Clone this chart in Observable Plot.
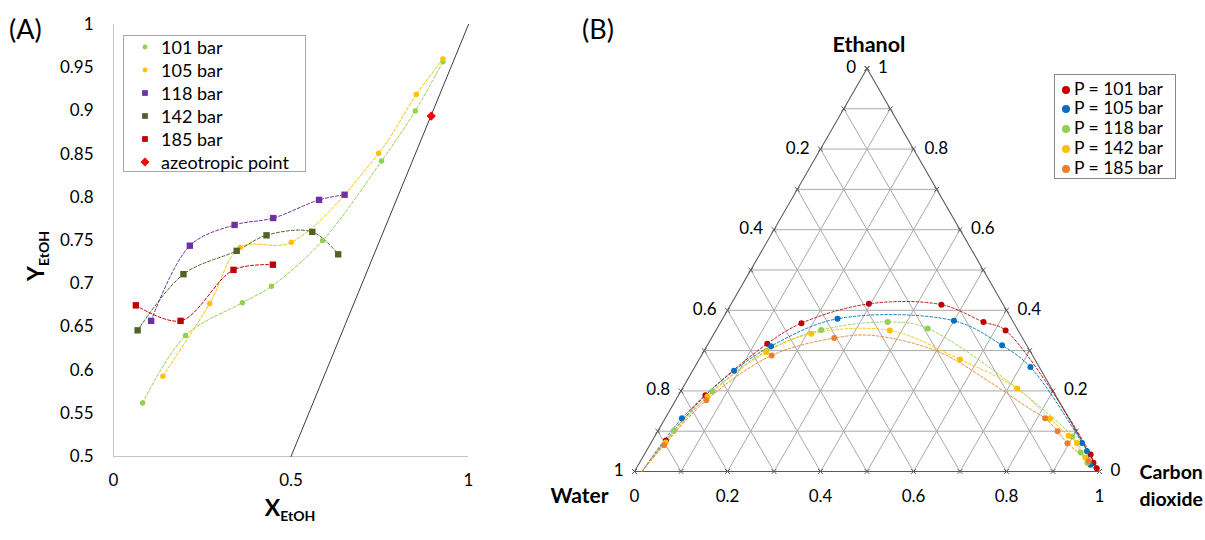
<!DOCTYPE html>
<html>
<head>
<meta charset="utf-8">
<script src="https://cdn.jsdelivr.net/npm/d3@7"></script>
<script src="https://cdn.jsdelivr.net/npm/@observablehq/plot@0.6"></script>
<style>
  body { margin: 0; background: #fff; }
  #root { position: relative; width: 1205px; height: 540px; overflow: hidden; background: #fff;
          font-family: Lato, "Open Sans", sans-serif; color: #000; }
  #panelA { position: absolute; left: 0; top: 0; }
  #panelB { position: absolute; left: 530px; top: 0; }
  .tag { position: absolute; font-size: 27px; line-height: 1; }
  .legend { position: absolute; background: #fff; box-sizing: border-box; }
  .legend .row { position: absolute; left: 0; display: flex; align-items: center; white-space: nowrap; }
</style>
</head>
<body>
<div id="root">
  <div id="panelA"></div>
  <div id="panelB"></div>
</div>
<script>
// ---------------- Panel A data: vapour (Y) vs liquid (X) ethanol fraction ----------------
const seriesNamesA = ["101 bar", "105 bar", "118 bar", "142 bar", "185 bar"];
const x101 = [0.082, 0.203, 0.363, 0.445, 0.589, 0.755, 0.850, 0.928];
const y101 = [0.562, 0.640, 0.678, 0.697, 0.750, 0.842, 0.900, 0.957];
const x105 = [0.139, 0.271, 0.357, 0.501, 0.747, 0.853, 0.928];
const y105 = [0.593, 0.677, 0.742, 0.748, 0.851, 0.919, 0.960];
const x118 = [0.106, 0.215, 0.341, 0.450, 0.579, 0.651];
const y118 = [0.657, 0.744, 0.768, 0.776, 0.797, 0.803];
const x142 = [0.068, 0.197, 0.347, 0.431, 0.560, 0.633];
const y142 = [0.646, 0.711, 0.738, 0.756, 0.760, 0.734];
const x185 = [0.063, 0.189, 0.338, 0.449];
const y185 = [0.675, 0.657, 0.716, 0.722];
const azeoLabel = "azeotropic point";
const azeoX = [0.895];
const azeoY = [0.894];
const diagX = [0.5, 1];
const diagY = [0.5, 1];
const xTicksA = [0, 0.5, 1];
const yTicksA = [0.5, 0.55, 0.6, 0.65, 0.7, 0.75, 0.8, 0.85, 0.9, 0.95, 1];

// ---------------- Panel B data: ternary (CO2 fraction c, ethanol fraction e) ----------------
const seriesNamesB = ["P = 101 bar", "P = 105 bar", "P = 118 bar", "P = 142 bar", "P = 185 bar"];
const c101 = [0.029, 0.058, 0.127, 0.175, 0.296, 0.453, 0.565, 0.623, 0.960, 0.976, 0.990];
const e101 = [0.077, 0.189, 0.317, 0.368, 0.416, 0.414, 0.371, 0.350, 0.042, 0.022, 0.008];
const c105 = [0.036, 0.089, 0.138, 0.247, 0.500, 0.634, 0.722, 0.927, 0.948, 0.972];
const e105 = [0.132, 0.250, 0.311, 0.379, 0.374, 0.313, 0.259, 0.071, 0.050, 0.017];
const c118 = [0.034, 0.068, 0.134, 0.226, 0.359, 0.453, 0.898, 0.936, 0.963];
const e118 = [0.101, 0.199, 0.299, 0.351, 0.371, 0.355, 0.087, 0.047, 0.022];
const c142 = [0.031, 0.064, 0.135, 0.209, 0.374, 0.561, 0.720, 0.828, 0.889, 0.916, 0.952];
const e142 = [0.072, 0.186, 0.296, 0.342, 0.350, 0.278, 0.206, 0.131, 0.089, 0.071, 0.035];
const c185 = [0.031, 0.066, 0.151, 0.264, 0.817, 0.860, 0.896, 0.964];
const e185 = [0.065, 0.177, 0.288, 0.331, 0.132, 0.100, 0.070, 0.026];
// extra points read off the dashed fitted 185 bar curve where it has no markers
const fit185C = [0.339, 0.503, 0.655, 0.775];
const fit185E = [0.338, 0.298, 0.221, 0.154];
// where the dashed fitted curves meet the triangle edges
const curveStartC = 0.016;
const curveEndC = 1;
const gridTicks = [0.1, 0.2, 0.3, 0.4, 0.5, 0.6, 0.7, 0.8, 0.9];
const edgeTicks = [0, 0.1, 0.2, 0.3, 0.4, 0.5, 0.6, 0.7, 0.8, 0.9, 1];
const labelTicks = [0, 0.2, 0.4, 0.6, 0.8, 1];
const vertexNames = ["Water", "Carbon\ndioxide", "Ethanol"];

// ---------------- helpers ----------------
const fmt = d => String(+(+d).toFixed(2));
const pts = (xs, ys) => xs.map((x, i) => ({x, y: ys[i]}));
const comp = (cs, es) => cs.map((c, i) => ({c, e: es[i]}));
const S3 = Math.sqrt(3) / 2;
const TX = d => d.c + d.e / 2;
const TY = d => d.e * S3;

// ---------------- Panel A ----------------
const A = [
  {name: seriesNamesA[0], data: pts(x101, y101), color: "#92D050", symbol: "circle", r: 2.7},
  {name: seriesNamesA[1], data: pts(x105, y105), color: "#FFC000", symbol: "circle", r: 2.7},
  {name: seriesNamesA[2], data: pts(x118, y118), color: "#7030A0", symbol: "square", r: 3.6},
  {name: seriesNamesA[3], data: pts(x142, y142), color: "#4F6228", symbol: "square", r: 3.6},
  {name: seriesNamesA[4], data: pts(x185, y185), color: "#C00000", symbol: "square", r: 3.6}
];

const marksA = [
  Plot.ruleX([0], {stroke: "#c4c4c4", strokeWidth: 1}),
  Plot.ruleY([0.5], {stroke: "#c4c4c4", strokeWidth: 1}),
  Plot.line(pts(diagX, diagY), {x: "x", y: "y", stroke: "#3c3c3c", strokeWidth: 1})
];
for (const s of A) {
  marksA.push(Plot.line(s.data, {x: "x", y: "y", stroke: s.color, strokeWidth: 1,
    strokeDasharray: "3,2", curve: "catmull-rom"}));
}
for (const s of A) {
  marksA.push(Plot.dot(s.data, {x: "x", y: "y", fill: s.color, symbol: s.symbol, r: s.r}));
}
marksA.push(Plot.dot(pts(azeoX, azeoY), {x: "x", y: "y", fill: "#FF0000", symbol: "diamond2", r: 4.2}));

const plotA = Plot.plot({
  width: 490, height: 540,
  marginLeft: 113, marginRight: 22, marginTop: 24, marginBottom: 84,
  style: {fontFamily: "Lato, 'Open Sans', sans-serif", fontSize: "17px", color: "#000", background: "transparent"},
  x: {domain: [0, 1], ticks: xTicksA, tickFormat: fmt, tickSize: 0, tickPadding: 17, label: null},
  y: {domain: [0.5, 1], ticks: yTicksA, tickFormat: fmt, tickSize: 0, tickPadding: 20, label: null},
  marks: marksA
});
document.getElementById("panelA").appendChild(plotA);

// axis titles with subscripts
const svgA = d3.select(plotA);
const yt = svgA.append("text").attr("transform", "translate(44,256) rotate(-90)")
  .attr("text-anchor", "middle").attr("font-weight", "bold").attr("fill", "#000")
  .attr("font-family", "Lato, 'Open Sans', sans-serif");
yt.append("tspan").attr("font-size", 23).text("Y");
yt.append("tspan").attr("font-size", 14).attr("dy", 5).text("EtOH");
const xt = svgA.append("text").attr("transform", "translate(290,516)")
  .attr("text-anchor", "middle").attr("font-weight", "bold").attr("fill", "#000")
  .attr("font-family", "Lato, 'Open Sans', sans-serif");
xt.append("tspan").attr("font-size", 23).text("X");
xt.append("tspan").attr("font-size", 14).attr("dy", 5).text("EtOH");

// ---------------- Panel B ----------------
const B = [
  {name: seriesNamesB[0], data: comp(c101, e101), fit: [], color: "#C00000"},
  {name: seriesNamesB[1], data: comp(c105, e105), fit: [], color: "#0070C0"},
  {name: seriesNamesB[2], data: comp(c118, e118), fit: [], color: "#92D050"},
  {name: seriesNamesB[3], data: comp(c142, e142), fit: [], color: "#FFC000"},
  {name: seriesNamesB[4], data: comp(c185, e185), fit: comp(fit185C, fit185E), color: "#ED7D31"}
];

const gridLinks = [];
for (const k of gridTicks) {
  gridLinks.push({a: {c: 0, e: k}, b: {c: 1 - k, e: k}});        // constant ethanol
  gridLinks.push({a: {c: k, e: 0}, b: {c: k, e: 1 - k}});        // constant CO2
  gridLinks.push({a: {c: 1 - k, e: 0}, b: {c: 0, e: 1 - k}});    // constant water
}
const vertices = [{c: 0, e: 0, name: vertexNames[0]}, {c: 1, e: 0, name: vertexNames[1]}, {c: 0, e: 1, name: vertexNames[2]}];
const edgePts = [];
for (const k of edgeTicks) {
  edgePts.push({c: k, e: 0}, {c: 0, e: k}, {c: 1 - k, e: k});
}

const marksB = [
  Plot.link(gridLinks, {x1: d => TX(d.a), y1: d => TY(d.a), x2: d => TX(d.b), y2: d => TY(d.b),
    stroke: "#a9a9a9", strokeWidth: 1}),
  Plot.line([...vertices, vertices[0]], {x: TX, y: TY, stroke: "#5a5a5a", strokeWidth: 1.1}),
  Plot.dot(edgePts, {x: TX, y: TY, symbol: "times", r: 2.3, stroke: "#5a5a5a", strokeWidth: 1})
];
for (const s of B) {
  const curve = [{c: curveStartC, e: 0}, ...s.data, ...s.fit, {c: curveEndC, e: 0}]
    .sort((p, q) => p.c - q.c);
  marksB.push(Plot.line(curve, {x: TX, y: TY, stroke: s.color, strokeWidth: 1,
    strokeDasharray: "2.5,2", curve: "catmull-rom", strokeOpacity: 0.9}));
}
for (const s of B) {
  marksB.push(Plot.dot(s.data, {x: TX, y: TY, fill: s.color, r: 3}));
}
// tick labels
marksB.push(
  Plot.text(labelTicks, {x: v => v, y: () => 0, text: fmt, dy: 25, fontSize: 17}),
  Plot.text(labelTicks, {x: w => (1 - w) / 2, y: w => (1 - w) * S3, text: fmt, textAnchor: "end", dx: -11, dy: -1, fontSize: 17}),
  Plot.text(labelTicks, {x: e => 1 - e / 2, y: e => e * S3, text: fmt, textAnchor: "start", dx: 11, dy: -1, fontSize: 17}),
  Plot.text([vertices[0]], {x: TX, y: TY, text: "name", textAnchor: "end", dx: -26, dy: 25, fontSize: 21, fontWeight: "bold"}),
  Plot.text([vertices[1]], {x: TX, y: TY, text: "name", textAnchor: "start", dx: 40, dy: 12, fontSize: 19.5, fontWeight: "bold", lineHeight: 1.42}),
  Plot.text([vertices[2]], {x: TX, y: TY, text: "name", dx: 2, dy: -23, fontSize: 21.5, fontWeight: "bold"})
);

const plotB = Plot.plot({
  width: 675, height: 540,
  marginLeft: 104, marginRight: 106, marginTop: 68, marginBottom: 69,
  style: {fontFamily: "Lato, 'Open Sans', sans-serif", fontSize: "17px", color: "#000", background: "transparent"},
  x: {domain: [0, 1], axis: null},
  y: {domain: [0, S3], axis: null},
  marks: marksB
});
document.getElementById("panelB").appendChild(plotB);

// ---------------- overlays: panel tags and legends ----------------
const root = d3.select("#root");
root.append("div").attr("class", "tag").style("left", "9px").style("top", "15px").text("(A)");
root.append("div").attr("class", "tag").style("left", "582px").style("top", "15px").text("(B)");

function symbolSvg(color, symbol, r) {
  const path = d3.symbol(symbol === "square" ? d3.symbolSquare : symbol === "diamond2" ? d3.symbolDiamond2 : d3.symbolCircle, r * r * Math.PI)();
  return `<svg width="14" height="14" viewBox="-7 -7 14 14"><path d="${path}" fill="${color}"/></svg>`;
}

const legA = root.append("div").attr("class", "legend")
  .style("left", "123px").style("top", "35px").style("width", "183px").style("height", "137px")
  .style("border", "1px solid #a8a8a8").style("font-size", "18px");
const legAItems = [...A.map(s => ({name: s.name, color: s.color, symbol: s.symbol, r: s.r * 0.9})),
  {name: azeoLabel, color: "#FF0000", symbol: "diamond2", r: 4.0}];
legAItems.forEach((it, i) => {
  const row = legA.append("div").attr("class", "row").style("top", (11 + 23 * i - 11) + "px").style("height", "22px");
  row.append("span").style("display", "inline-block").style("width", "14px").style("margin-left", "14px")
    .html(symbolSvg(it.color, it.symbol, it.r));
  row.append("span").style("margin-left", "9px").text(it.name);
});

const legB = root.append("div").attr("class", "legend")
  .style("left", "1054px").style("top", "74px").style("width", "122px").style("height", "105px")
  .style("border", "1px solid #8a8a8a").style("font-size", "17.5px");
B.forEach((s, i) => {
  const row = legB.append("div").attr("class", "row").style("top", (13 + 19.8 * i - 11) + "px").style("height", "22px");
  row.append("span").style("display", "inline-block").style("width", "10px").style("margin-left", "6px")
    .html(`<svg width="10" height="10" viewBox="-5 -5 10 10"><circle r="4" fill="${s.color}"/></svg>`);
  row.append("span").style("margin-left", "3px").text(s.name);
});
</script>
</body>
</html>
